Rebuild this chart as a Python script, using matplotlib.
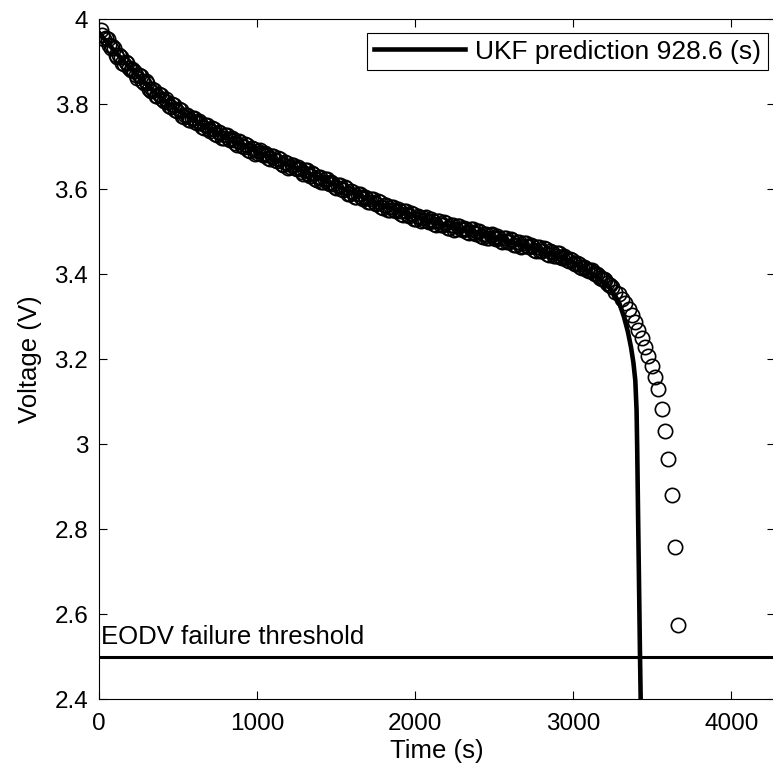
import numpy as np
import matplotlib
matplotlib.use("Agg")
from matplotlib import pyplot as plt

# measured voltage (circles), read in two interleaved passes along the band
time_s = [
    10, 31, 52, 73, 94, 115, 136, 157, 178, 199,
    220, 241, 262, 283, 304, 325, 346, 367, 388, 409,
    430, 451, 472, 493, 514, 535, 556, 577, 598, 619,
    640, 661, 682, 703, 724, 745, 766, 787, 808, 829,
    850, 871, 892, 913, 934, 955, 976, 997, 1018, 1039,
    1060, 1081, 1102, 1123, 1144, 1165, 1186, 1207, 1228, 1249,
    1270, 1291, 1312, 1333, 1354, 1375, 1396, 1417, 1438, 1459,
    1480, 1501, 1522, 1543, 1564, 1585, 1606, 1627, 1648, 1669,
    1690, 1711, 1732, 1753, 1774, 1795, 1816, 1837, 1858, 1879,
    1900, 1921, 1942, 1963, 1984, 2005, 2026, 2047, 2068, 2089,
    2110, 2131, 2152, 2173, 2194, 2215, 2236, 2257, 2278, 2299,
    2320, 2341, 2362, 2383, 2404, 2425, 2446, 2467, 2488, 2509,
    2530, 2551, 2572, 2593, 2614, 2635, 2656, 2677, 2698, 2719,
    2740, 2761, 2782, 2803, 2824, 2845, 2866, 2887, 2908, 2929,
    2950, 2971, 2992, 3013, 3034, 3055, 3076, 3097, 3118, 3139,
    3160, 3181, 3202, 3223, 3244, 3265, 3286, 3307, 3328, 3349,
    3370, 3391, 3412, 3433, 3454, 3475, 3496, 3517, 3538, 3559,
    3580, 3601, 3622, 3643, 3664,
]
voltage = [
    3.976, 3.953, 3.953, 3.933, 3.932, 3.911, 3.912, 3.896, 3.897, 3.881,
    3.878, 3.863, 3.866, 3.849, 3.850, 3.832, 3.833, 3.819, 3.823, 3.808,
    3.806, 3.793, 3.798, 3.784, 3.786, 3.770, 3.774, 3.763, 3.768, 3.756,
    3.756, 3.744, 3.751, 3.738, 3.742, 3.727, 3.732, 3.721, 3.727, 3.715,
    3.716, 3.705, 3.712, 3.700, 3.704, 3.690, 3.695, 3.685, 3.692, 3.680,
    3.681, 3.671, 3.679, 3.666, 3.671, 3.657, 3.662, 3.652, 3.658, 3.647,
    3.648, 3.637, 3.645, 3.632, 3.637, 3.623, 3.628, 3.618, 3.624, 3.613,
    3.613, 3.603, 3.610, 3.598, 3.602, 3.588, 3.593, 3.583, 3.590, 3.578,
    3.579, 3.569, 3.577, 3.565, 3.570, 3.556, 3.562, 3.552, 3.559, 3.549,
    3.550, 3.540, 3.549, 3.537, 3.543, 3.529, 3.536, 3.527, 3.534, 3.524,
    3.526, 3.517, 3.526, 3.515, 3.521, 3.508, 3.515, 3.506, 3.514, 3.504,
    3.506, 3.497, 3.506, 3.495, 3.501, 3.488, 3.495, 3.486, 3.494, 3.484,
    3.486, 3.477, 3.486, 3.475, 3.481, 3.468, 3.475, 3.466, 3.474, 3.464,
    3.466, 3.456, 3.465, 3.454, 3.460, 3.446, 3.453, 3.443, 3.450, 3.439,
    3.439, 3.432, 3.434, 3.424, 3.425, 3.415, 3.416, 3.408, 3.409, 3.400,
    3.397, 3.388, 3.386, 3.376, 3.371, 3.359, 3.353, 3.341, 3.332, 3.318,
    3.304, 3.288, 3.270, 3.251, 3.230, 3.208, 3.184, 3.158, 3.129, 3.082,
    3.032, 2.965, 2.881, 2.759, 2.576,
]
time_s_b = [
    20, 41, 62, 83, 104, 125, 146, 167, 188, 209,
    230, 251, 272, 293, 314, 335, 356, 377, 398, 419,
    440, 461, 482, 503, 524, 545, 566, 587, 608, 629,
    650, 671, 692, 713, 734, 755, 776, 797, 818, 839,
    860, 881, 902, 923, 944, 965, 986, 1007, 1028, 1049,
    1070, 1091, 1112, 1133, 1154, 1175, 1196, 1217, 1238, 1259,
    1280, 1301, 1322, 1343, 1364, 1385, 1406, 1427, 1448, 1469,
    1490, 1511, 1532, 1553, 1574, 1595, 1616, 1637, 1658, 1679,
    1700, 1721, 1742, 1763, 1784, 1805, 1826, 1847, 1868, 1889,
    1910, 1931, 1952, 1973, 1994, 2015, 2036, 2057, 2078, 2099,
    2120, 2141, 2162, 2183, 2204, 2225, 2246, 2267, 2288, 2309,
    2330, 2351, 2372, 2393, 2414, 2435, 2456, 2477, 2498, 2519,
    2540, 2561, 2582, 2603, 2624, 2645, 2666, 2687, 2708, 2729,
    2750, 2771, 2792, 2813, 2834, 2855, 2876, 2897, 2918, 2939,
    2960, 2981, 3002, 3023, 3044, 3065, 3086, 3107, 3128, 3149,
    3170, 3191, 3212, 3233,
]
voltage_b = [
    3.962, 3.957, 3.939, 3.937, 3.917, 3.916, 3.898, 3.899, 3.886, 3.884,
    3.868, 3.869, 3.854, 3.854, 3.836, 3.837, 3.820, 3.824, 3.812, 3.812,
    3.797, 3.800, 3.787, 3.790, 3.773, 3.776, 3.763, 3.768, 3.759, 3.761,
    3.747, 3.752, 3.741, 3.745, 3.730, 3.734, 3.721, 3.727, 3.718, 3.720,
    3.708, 3.713, 3.702, 3.707, 3.692, 3.697, 3.684, 3.691, 3.683, 3.685,
    3.673, 3.679, 3.669, 3.673, 3.659, 3.664, 3.651, 3.658, 3.649, 3.652,
    3.640, 3.645, 3.635, 3.639, 3.625, 3.630, 3.617, 3.624, 3.615, 3.618,
    3.605, 3.611, 3.600, 3.605, 3.590, 3.595, 3.582, 3.589, 3.581, 3.583,
    3.571, 3.577, 3.567, 3.572, 3.558, 3.563, 3.551, 3.558, 3.551, 3.554,
    3.542, 3.549, 3.539, 3.545, 3.531, 3.537, 3.526, 3.533, 3.526, 3.530,
    3.519, 3.526, 3.517, 3.523, 3.510, 3.516, 3.505, 3.513, 3.506, 3.510,
    3.499, 3.506, 3.497, 3.503, 3.490, 3.496, 3.485, 3.493, 3.486, 3.490,
    3.479, 3.486, 3.477, 3.483, 3.470, 3.476, 3.465, 3.473, 3.466, 3.470,
    3.458, 3.465, 3.456, 3.462, 3.448, 3.454, 3.442, 3.449, 3.441, 3.444,
    3.434, 3.435, 3.427, 3.427, 3.418, 3.417, 3.409, 3.410, 3.402, 3.400,
    3.392, 3.388, 3.379, 3.374,
]

# UKF prediction (solid line)
pred_t = [0, 50, 100, 200, 300, 400, 500, 600, 800, 1000, 1200, 1400, 1600,
          1800, 2000, 2200, 2400, 2600, 2800, 2900, 3000, 3100, 3150, 3200,
          3230, 3260, 3290, 3320, 3345, 3365, 3380, 3392, 3400, 3404, 3410,
          3416, 3421, 3426, 3431]
pred_v = [3.968, 3.945, 3.924, 3.883, 3.846, 3.812, 3.785, 3.762, 3.722, 3.689,
          3.657, 3.625, 3.592, 3.561, 3.536, 3.515, 3.496, 3.476, 3.455, 3.443,
          3.427, 3.405, 3.393, 3.378, 3.368, 3.352, 3.333, 3.300, 3.265, 3.228,
          3.192, 3.150, 3.080, 2.990, 2.820, 2.660, 2.520, 2.400, 2.300]

threshold = 2.5
pred_label = "UKF prediction 928.6 (s)"

plt.rcParams['font.family'] = ['Liberation Sans', 'DejaVu Sans']
plt.rcParams['font.size'] = 18.5

fig = plt.figure(figsize=(7.73, 7.78), dpi=100)
ax = fig.add_axes([99.3 / 773, 1 - 699.3 / 778, (775 - 99.3) / 773, 680 / 778])

ax.plot(pred_t, pred_v, '-', color='black', lw=3.3, label=pred_label)
ax.plot(time_s_b, voltage_b, 'o', mfc='none', mec='black', ms=10.3, mew=1.2)
ax.plot(time_s, voltage, 'o', mfc='none', mec='black', ms=10.3, mew=1.2)
ax.axhline(threshold, color='black', lw=2.2)
ax.text(12, threshold + 0.03, "EODV failure threshold", va='baseline', ha='left')

ax.set_xlim(0, 4276)
ax.set_ylim(2.4, 4)
ax.set_xticks([0, 1000, 2000, 3000, 4000])
ax.set_yticks([2.4, 2.6, 2.8, 3.0, 3.2, 3.4, 3.6, 3.8, 4.0])
ax.set_yticklabels(["2.4", "2.6", "2.8", "3", "3.2", "3.4", "3.6", "3.8", "4"])
ax.tick_params(direction='in', length=6, width=0.8, top=True, right=True, labelsize=17.5)
ax.tick_params(axis='y', pad=8)
ax.tick_params(axis='x', pad=10)
for s in ax.spines.values():
    s.set_linewidth(0.8)

ax.set_xlabel("Time (s)", labelpad=3)
ax.set_ylabel("Voltage (V)", labelpad=9)

leg = ax.legend(loc='upper right', bbox_to_anchor=(768 / 773, 1 - 33 / 778),
                bbox_transform=fig.transFigure, borderaxespad=0, fancybox=False,
                edgecolor='black', framealpha=1, fontsize=19, handlelength=3.45,
                handletextpad=0.4, borderpad=0.25)
leg.get_frame().set_linewidth(0.8)

fig.savefig("out.png", dpi=100)
